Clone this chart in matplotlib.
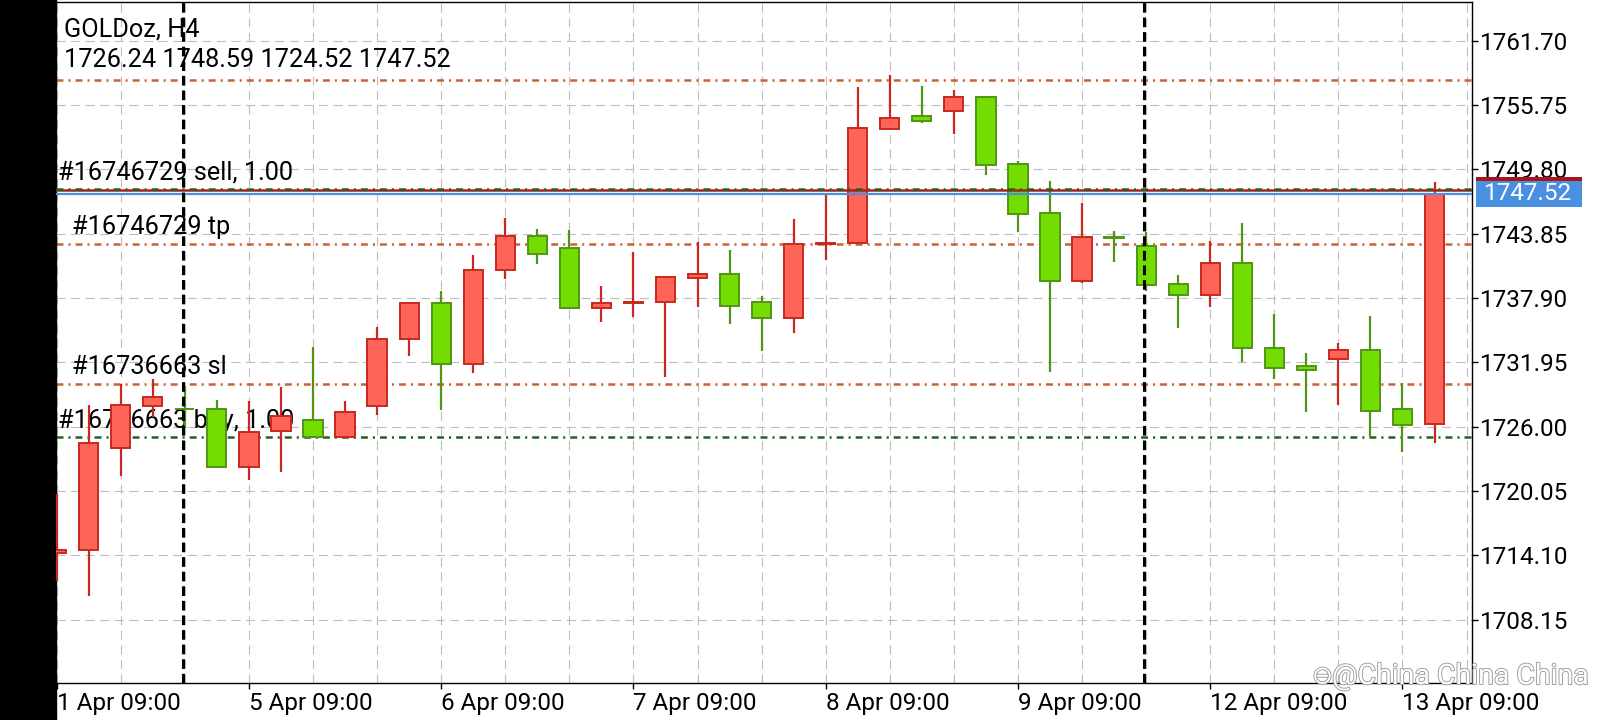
import numpy as np
import matplotlib.pyplot as plt
from matplotlib.patches import Rectangle
import matplotlib.patheffects as pe

plt.rcParams['font.family'] = ['Roboto', 'DejaVu Sans']
plt.rcParams['lines.scale_dashes'] = False

# GOLDoz H4 свечи (читаем с картинки)
opens = np.array([1714.35, 1714.60, 1724.02, 1727.88, 1727.65, 1727.62, 1722.26, 1725.57,
                  1726.66, 1725.07, 1727.95, 1734.07, 1737.40, 1731.78, 1740.48, 1743.59,
                  1742.53, 1736.97, 1737.45, 1737.54, 1739.78, 1740.08, 1737.57, 1736.08,
                  1742.86, 1742.99, 1753.57, 1754.69, 1755.16, 1756.48, 1750.26, 1745.73,
                  1739.45, 1743.52, 1742.69, 1739.19, 1738.20, 1741.17, 1733.27, 1731.59,
                  1732.25, 1733.07, 1727.62, 1726.24])
highs = np.array([1719.80, 1727.98, 1729.97, 1730.43, 1729.80, 1728.48, 1728.38, 1729.64,
                  1733.34, 1728.38, 1735.22, 1737.47, 1738.53, 1741.90, 1745.34, 1744.31,
                  1744.21, 1739.02, 1742.16, 1739.92, 1743.09, 1742.33, 1738.07, 1745.24,
                  1747.49, 1757.40, 1758.53, 1757.53, 1757.14, 1756.50, 1750.53, 1748.71,
                  1746.73, 1744.08, 1743.98, 1740.02, 1743.16, 1744.84, 1736.41, 1732.84,
                  1733.73, 1736.25, 1730.03, 1748.59])
lows = np.array([1711.70, 1710.36, 1721.44, 1726.89, 1725.90, 1722.17, 1721.11, 1721.77,
                 1725.00, 1724.97, 1727.12, 1732.51, 1727.55, 1730.92, 1739.62, 1741.01,
                 1736.95, 1735.72, 1736.15, 1730.59, 1737.07, 1735.49, 1733.01, 1734.66,
                 1741.44, 1742.92, 1753.55, 1754.10, 1753.07, 1749.27, 1743.98, 1731.02,
                 1739.29, 1741.27, 1738.53, 1735.09, 1737.07, 1731.95, 1730.36, 1727.32,
                 1727.98, 1725.01, 1723.65, 1724.52])
closes = np.array([1714.60, 1724.48, 1727.98, 1728.71, 1727.60, 1722.26, 1725.47, 1726.99,
                   1725.01, 1727.39, 1734.07, 1737.40, 1731.78, 1740.45, 1743.59, 1741.93,
                   1736.97, 1737.47, 1737.50, 1739.82, 1740.11, 1737.14, 1736.08, 1742.86,
                   1742.99, 1753.60, 1754.59, 1754.26, 1756.48, 1750.20, 1745.67, 1739.45,
                   1743.52, 1743.45, 1739.12, 1738.13, 1741.11, 1733.24, 1731.45, 1731.26,
                   1733.07, 1727.45, 1726.13, 1747.52])

tick_labels = ['1 Apr 09:00', '5 Apr 09:00', '6 Apr 09:00', '7 Apr 09:00',
               '8 Apr 09:00', '9 Apr 09:00', '12 Apr 09:00', '13 Apr 09:00']
y_ticks = [1708.15, 1714.10, 1720.05, 1726.00, 1731.95, 1737.90, 1743.85, 1749.80, 1755.75, 1761.70]
week_starts = [4, 34]

# уровни ордеров
sell_price, sell_sl, sell_tp = 1747.98, 1758.03, 1742.92
buy_price, buy_sl = 1725.01, 1729.97
bid, ask = 1747.52, 1747.86

RED_FILL, RED_EDGE = '#FF6459', '#C8281E'
GREEN_FILL, GREEN_EDGE = '#73DC00', '#509614'
ORANGE, DKGREEN = '#C86432', '#1E641E'
DASHDOT = (0, (5, 3.6, 1.5, 3.6))

fig = plt.figure(figsize=(16, 7.2), dpi=100)
ax = fig.add_axes([56 / 1600, 37 / 720, 1416 / 1600, 681.5 / 720])
fig.add_artist(Rectangle((0, 0), 55.5 / 1600, 1, transform=fig.transFigure,
                         color='black', zorder=-1))

x = np.arange(len(opens))
up = closes >= opens
fills = np.where(up, RED_FILL, GREEN_FILL)
edges = np.where(up, RED_EDGE, GREEN_EDGE)

# свечи
ax.vlines(x, lows, highs, colors=edges, lw=1.6, zorder=2.8)
ax.bar(x, np.abs(closes - opens), bottom=np.minimum(opens, closes), width=0.6,
       color=fills, edgecolor=edges, linewidth=1.4, zorder=3)

ax.set_xlim(-0.02, 44.17)
ax.set_ylim(1702.29, 1765.32)

# сетка
ax.set_axisbelow(True)
ax.set_xticks(np.arange(0, 45, 2), minor=True)
ax.set_xticks(x[::6])
ax.set_xticklabels(tick_labels, ha='left')
ax.set_yticks(y_ticks)
ax.set_yticklabels([f'{v:.2f}' for v in y_ticks])
ax.yaxis.tick_right()
ax.grid(True, which='both', axis='x', color='#BDBDBD', lw=0.8, linestyle=(0, (6.5, 4)))
ax.grid(True, which='major', axis='y', color='#BDBDBD', lw=0.8, linestyle=(0, (6.5, 4)))
ax.tick_params(axis='x', which='minor', length=0)
ax.tick_params(axis='x', which='major', length=4, pad=2.5, labelsize=17.5, width=1)
ax.tick_params(axis='y', length=4.3, pad=1.5, labelsize=17.5, width=1)
for sp in ax.spines.values():
    sp.set_color('black')
    sp.set_linewidth(1.0)

# разделители недель
for s in week_starts:
    ax.axvline(s - 0.07, color='black', lw=2.2, linestyle=(0, (7, 3.5)), zorder=4)

# линии ордеров
ax.axhline(sell_sl, color=ORANGE, lw=1.8, linestyle=DASHDOT, zorder=2)
ax.axhline(sell_tp, color=ORANGE, lw=1.8, linestyle=DASHDOT, zorder=2)
ax.axhline(buy_sl, color=ORANGE, lw=1.8, linestyle=DASHDOT, zorder=2)
ax.axhline(buy_price, color=DKGREEN, lw=1.8, linestyle=DASHDOT, zorder=2)
ax.axhline(ask, color='#B01E1E', lw=1.8, zorder=3.5)
ax.axhline(bid, color='#4A90E2', lw=1.6, zorder=3.5)
ax.axhline(sell_price, color=DKGREEN, lw=1.8, linestyle=DASHDOT, zorder=3.6)

ytr = ax.get_yaxis_transform()
order_labels = [('#16746729 sell, 1.00', sell_price, 0.0014),
                ('#16746729 tp', sell_tp, 0.0113),
                ('#16736663 sl', buy_sl, 0.0113),
                ('#16736663 buy, 1.00', buy_price, 0.0014)]
for txt, price, xf in order_labels:
    ax.annotate(txt, xy=(xf, price), xycoords=ytr, xytext=(0, 7), textcoords='offset points',
                fontsize=18.2, va='baseline', ha='left', color='black', zorder=1.8)

# заголовок
ax.text(0.0059, 0.948, 'GOLDoz, H4', transform=ax.transAxes, fontsize=18.2,
        va='baseline', zorder=1.8)
ax.text(0.0059, 0.904, f'{opens[-1]:.2f} {highs[-1]:.2f} {lows[-1]:.2f} {closes[-1]:.2f}',
        transform=ax.transAxes, fontsize=18.2, va='baseline', zorder=1.8)

# метки цены справа
h = 2.45
ax.add_patch(Rectangle((1.0028, ask - h / 2), 0.0746, h, transform=ytr, clip_on=False,
                       fc='#A8141E', ec='none', zorder=5))
ax.add_patch(Rectangle((1.0028, bid - h / 2), 0.0746, h, transform=ytr, clip_on=False,
                       fc='#4A90E2', ec='none', zorder=6))
ax.text(1.0085, bid, f'{bid:.2f}', transform=ytr, color='white', fontsize=17.5,
        va='center', ha='left', zorder=7, clip_on=False)

# водяной знак
stroke = [pe.withStroke(linewidth=1.3, foreground='#9A9A9A')]
fig.text(1312 / 1600, 1 - 676.6 / 720, '\u2296', fontsize=18, color='white', va='center',
         ha='left', family='DejaVu Sans', path_effects=stroke, zorder=10)
fig.text(1332 / 1600, 1 - 676.6 / 720, '@China China China', fontsize=20.5, color='white',
         va='center', ha='left', path_effects=stroke, zorder=10)

fig.savefig('out.png', dpi=100, facecolor='white')
